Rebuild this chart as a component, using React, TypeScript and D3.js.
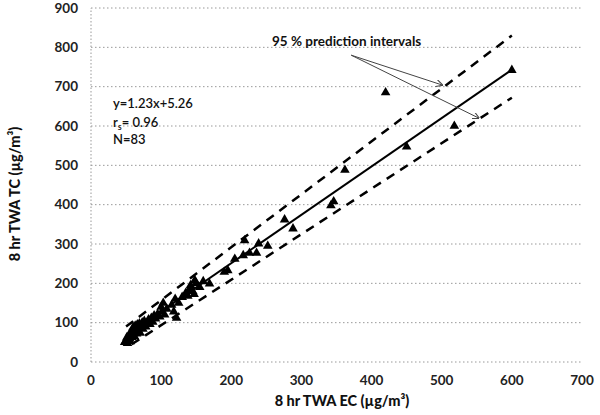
import React from "react";
import * as d3 from "d3";

const ecValues: number[] = [
  48, 50, 51, 52, 53, 54, 55, 55, 56, 57, 58, 58, 59, 60, 60, 61, 62, 62, 63, 64,
  65, 65, 66, 67, 68, 69, 70, 70, 72, 73, 74, 75, 76, 78, 80, 82, 84, 86, 88, 90,
  92, 95, 98, 100, 101, 103, 105, 108, 115, 118, 120, 122, 125, 130, 135, 138, 140, 142, 145, 147,
  150, 155, 160, 148, 169, 190, 195, 205, 217, 219, 226, 236, 239, 252, 276, 288, 342, 346, 362, 420,
  450, 518, 600,
];
const tcValues: number[] = [
  50, 55, 62, 48, 58, 66, 60, 72, 52, 68, 75, 63, 80, 70, 88, 76, 65, 84, 92, 78,
  72, 88, 95, 82, 76, 98, 86, 74, 92, 100, 84, 96, 104, 90, 98, 108, 96, 112, 102, 118,
  110, 122, 115, 140, 128, 150, 120, 135, 145, 128, 160, 112, 150, 165, 175, 168, 185, 195, 180, 172,
  200, 190, 205, 208, 199, 229, 233, 262, 271, 309, 277, 277, 301, 295, 362, 339, 398, 408, 488, 685,
  547, 600, 742,
];

const slope = 1.23;
const intercept = 5.26;
const fitRange: number[] = [50, 600];
const upperBandEc: number[] = [50, 600];
const upperBandTc: number[] = [90, 830];
const lowerBandEc: number[] = [58, 600];
const lowerBandTc: number[] = [45, 672];

const xTicks: number[] = [0, 100, 200, 300, 400, 500, 600, 700];
const yTicks: number[] = [0, 100, 200, 300, 400, 500, 600, 700, 800, 900];

const arrowStart: number[] = [371, 780];
const arrowEnds: number[][] = [
  [501, 704],
  [553, 620],
];

const FONT = "Lato, 'Open Sans', sans-serif";

export default function App() {
  const W = 600;
  const H = 415;
  const x = d3.scaleLinear().domain([0, 700]).range([91, 582]);
  const y = d3.scaleLinear().domain([0, 900]).range([362, 8]);
  const line = d3
    .line<[number, number]>()
    .x((d) => x(d[0]))
    .y((d) => y(d[1]));
  const fitPts: [number, number][] = fitRange.map((e) => [e, slope * e + intercept]);
  const upperPts: [number, number][] = upperBandEc.map((e, i) => [e, upperBandTc[i]]);
  const lowerPts: [number, number][] = lowerBandEc.map((e, i) => [e, lowerBandTc[i]]);
  const tri = d3.symbol().type(d3.symbolTriangle).size(40)() as string;

  return (
    <svg
      width={W}
      height={H}
      style={{ position: "absolute", left: 0, top: 0, background: "#fff" }}
      fontFamily={FONT}
    >
      <defs>
        <marker
          id="arr"
          viewBox="0 0 10 10"
          refX="9"
          refY="5"
          markerWidth="7"
          markerHeight="7"
          orient="auto"
        >
          <path d="M0,0 L10,5 L0,10" fill="none" stroke="#444" strokeWidth={1.5} />
        </marker>
      </defs>
      {/* gridlines */}
      {yTicks.map((t) => (
        <line
          key={"g" + t}
          x1={x(0)}
          x2={x(700)}
          y1={y(t)}
          y2={y(t)}
          stroke="#999"
          strokeWidth={1}
          strokeDasharray="1.5 2.5"
        />
      ))}
      <line
        x1={x(0)}
        x2={x(0)}
        y1={y(0)}
        y2={y(900)}
        stroke="#999"
        strokeWidth={1}
        strokeDasharray="1.5 2"
      />
      {/* tick labels */}
      {yTicks.map((t) => (
        <text
          key={"yl" + t}
          x={78}
          y={y(t)}
          dy="0.35em"
          textAnchor="end"
          fontSize={13.5}
          fontWeight={700}
          fill="#222"
        >
          {t}
        </text>
      ))}
      {xTicks.map((t) => (
        <text
          key={"xl" + t}
          x={x(t)}
          y={380}
          dy="0.35em"
          textAnchor="middle"
          fontSize={13.5}
          fontWeight={700}
          fill="#222"
        >
          {t}
        </text>
      ))}
      {/* axis titles */}
      <text
        x={342}
        y={406}
        textAnchor="middle"
        fontSize={14.5}
        fontWeight={900}
        fill="#111"
      >
        8 hr TWA EC (µg/m³)
      </text>
      <text
        transform="translate(20,194) rotate(-90)"
        textAnchor="middle"
        fontSize={14.5}
        fontWeight={900}
        fill="#111"
      >
        8 hr TWA TC (µg/m³)
      </text>
      {/* prediction intervals */}
      <path d={line(upperPts) || ""} fill="none" stroke="#000" strokeWidth={2.5} strokeDasharray="9 7" />
      <path d={line(lowerPts) || ""} fill="none" stroke="#000" strokeWidth={2.5} strokeDasharray="9 7" />
      {/* fit line */}
      <path d={line(fitPts) || ""} fill="none" stroke="#000" strokeWidth={2} />
      {/* points */}
      {ecValues.map((e, i) => (
        <path
          key={"p" + i}
          d={tri}
          transform={`translate(${x(e)},${y(tcValues[i])})`}
          fill="#000"
        />
      ))}
      {/* annotations */}
      {arrowEnds.map((a, i) => (
        <line
          key={"a" + i}
          x1={x(arrowStart[0])}
          y1={y(arrowStart[1])}
          x2={x(a[0])}
          y2={y(a[1])}
          stroke="#444"
          strokeWidth={1}
          markerEnd="url(#arr)"
        />
      ))}
      <text x={272} y={46} fontSize={13.5} fontWeight={700} fill="#111">
        95 % prediction intervals
      </text>
      <text x={113} y={108} fontSize={13} fontWeight={600} fill="#111">
        y=1.23x+5.26
      </text>
      <text x={113} y={127} fontSize={13} fontWeight={600} fill="#111">
        r<tspan fontSize={9} dy={3}>s</tspan>
        <tspan dy={-3}>= 0.96</tspan>
      </text>
      <text x={113} y={144} fontSize={13} fontWeight={600} fill="#111">
        N=83
      </text>
    </svg>
  );
}
